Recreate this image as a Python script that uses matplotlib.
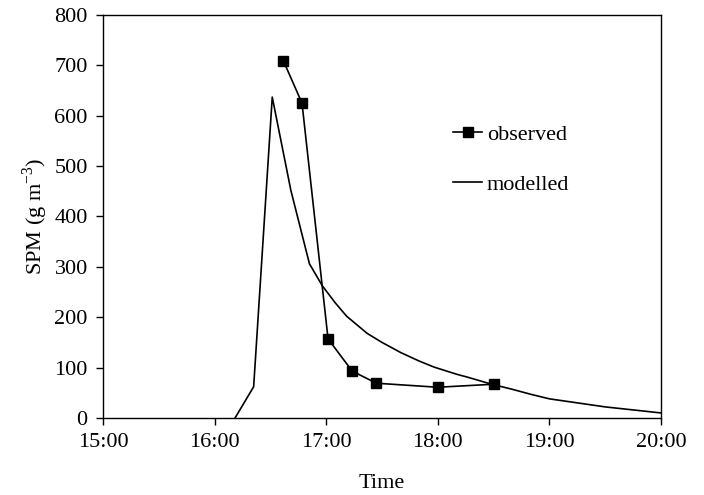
"""
SPM time series: observed vs modelled suspended particulate matter.
"""

import matplotlib
matplotlib.use("Agg")
import matplotlib.pyplot as plt
import numpy as np

# observed samples (clock time, SPM in g m-3)
obs_time = ["16:37", "16:47", "17:01", "17:14", "17:27", "18:00", "18:30"]
obs_spm = [709, 625, 157, 93, 69, 61, 67]

# modelled curve
mod_time = ["16:11", "16:21", "16:31", "16:41", "16:51", "16:58", "17:05",
            "17:11", "17:22", "17:30", "17:40", "17:50", "17:58", "18:10",
            "18:16", "18:29", "18:40", "18:50", "19:00", "19:15", "19:30",
            "19:45", "20:00"]
mod_spm = [0, 62, 637, 452, 306, 262, 228, 202, 168, 150, 130, 113, 101, 87,
           81, 67, 57, 47, 38, 30, 22, 16, 10]

hour_ticks = [15, 16, 17, 18, 19, 20]
spm_ticks = [0, 100, 200, 300, 400, 500, 600, 700, 800]


def to_hours(stamps):
    out = []
    for s in stamps:
        h, m = s.split(":")
        out.append(int(h) + int(m) / 60.0)
    return np.array(out)


def main():
    plt.rcParams["font.family"] = ["Liberation Serif", "DejaVu Serif"]
    plt.rcParams["mathtext.fontset"] = "custom"
    plt.rcParams["mathtext.rm"] = "Liberation Serif"

    fig = plt.figure(figsize=(7.04, 4.95), dpi=100)
    ax = fig.add_axes([0.1463, 0.1556, 0.7926, 0.8141])

    ax.plot(to_hours(obs_time), obs_spm, color="black", lw=1.2,
            marker="s", ms=7, label="observed")
    ax.plot(to_hours(mod_time), mod_spm, color="black", lw=1.2,
            label="modelled")

    ax.set_xlim(15, 20)
    ax.set_ylim(0, 800)
    ax.set_xticks(hour_ticks)
    ax.set_xticklabels([f"{h}:00" for h in hour_ticks])
    ax.set_yticks(spm_ticks)
    ax.tick_params(direction="out", length=5, width=1, labelsize=16, pad=6)
    for sp in ax.spines.values():
        sp.set_linewidth(1.0)

    ax.set_xlabel("Time", fontsize=16, labelpad=16)
    ax.set_ylabel("SPM (g m$^{-3}$)", fontsize=16, labelpad=3)

    ax.legend(frameon=False, loc="upper left", bbox_to_anchor=(0.612, 0.75),
              fontsize=16, handlelength=1.3, handletextpad=0.2,
              labelspacing=1.3, borderaxespad=0)

    fig.savefig("out.png", dpi=100)
    plt.close(fig)


if __name__ == "__main__":
    main()
